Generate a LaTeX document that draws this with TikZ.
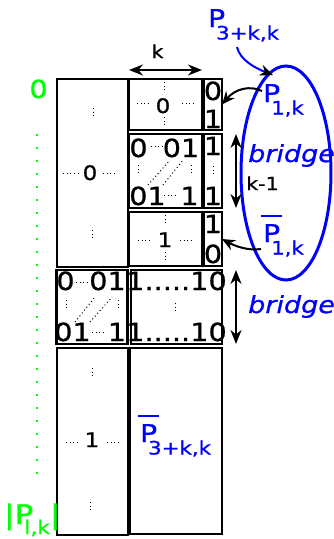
\documentclass[tikz,border=0pt]{standalone}
\usepackage{fontspec}
\setmainfont{DejaVu Sans}[FakeStretch=1.15,FakeBold=0.8]
\usetikzlibrary{arrows.meta}
\definecolor{pblue}{RGB}{0,0,255}
\definecolor{pgreen}{RGB}{0,255,0}
\newcommand\fs[1]{\fontsize{#1}{#1}\selectfont}
\newcommand\lowsub[1]{\kern-9pt\raisebox{-12.5pt}{\fs{18.5}#1}}
\newcommand\barP{\makebox[0pt][l]{\kern-2pt\rule[25pt]{21pt}{2pt}}P}
\begin{document}
\begin{tikzpicture}[x=1pt,y=-1pt,
  blk/.style={draw, line width=2.8pt, inner sep=0pt, outer sep=0pt},
  dig/.style={inner sep=0pt, anchor=base, font=\fs{25}},
  sdig/.style={inner sep=0pt, anchor=base, font=\fs{20}},
  lbl/.style={inner sep=0pt, anchor=base west},
  dt/.style={line width=1pt, dash pattern=on 1pt off 2.7pt},
  arr/.style={line width=2pt, -{Stealth[length=13pt,width=11pt]}},
  dbl/.style={line width=2pt, {Stealth[length=14pt,width=11pt]}-{Stealth[length=14pt,width=11pt]}}]
\useasboundingbox (0,0) rectangle (334,539);
% blocks
\node[blk, minimum width=71pt, minimum height=188pt] (A) at (92.5,173) {};
\node[blk, minimum width=73pt, minimum height=51pt] (B) at (165.5,104.5) {};
\node[blk, minimum width=18pt, minimum height=51pt] (C) at (213,104.5) {};
\node[blk, minimum width=73pt, minimum height=74pt] (D) at (165.5,171) {};
\node[blk, minimum width=18pt, minimum height=74pt] (E) at (213,171) {};
\node[blk, minimum width=73pt, minimum height=54pt] (F) at (165.5,239) {};
\node[blk, minimum width=18pt, minimum height=54pt] (G) at (213,239) {};
\node[blk, minimum width=71pt, minimum height=74pt] (H) at (92,307) {};
\node[blk, minimum width=91pt, minimum height=74pt] (I) at (176.5,307) {};
\node[blk, minimum width=71pt, minimum height=187pt] (J) at (92.5,441.5) {};
\node[blk, minimum width=92pt, minimum height=186pt] (K) at (176,441) {};
% A
\node[sdig] (a0) at (90,180) {0};
\draw[dt] (63,173) -- (78,173); \draw[dt] (103,173) -- (117,173);
\draw[dt] (93,108) -- (93,118); \draw[dt] (92,230) -- (92,240);
% B
\node[sdig] (b0) at (163,113) {0};
\draw[dt] (137,103) -- (149,103); \draw[dt] (182,103) -- (194,103);
\draw[dt] (164,82) -- (164,92); \draw[dt] (164,117) -- (164,126);
% C
\node[dig] (c0) at (213,100) {0};
\node[dig] (c1) at (213,128) {1};
% D
\node[dig] (d1) at (138.5,157) {0};
\node[dig] (d2) at (181,157) {01};
\draw[dt] (151,146) -- (163,146);
\node[dig] (d3) at (147.5,205) {01};
\node[dig] (d4) at (189.5,205) {1};
\draw[dt] (164,195) -- (178,195);
\draw[dt] (138,165) -- (138,175); \draw[dt] (191,165) -- (191,175);
\draw[dt] (148,185) -- (170,160); \draw[dt] (163,185) -- (183,160);
% E
\node[dig] (e1) at (213,155) {1};
\node[dig] (e2) at (213,205) {1};
\draw[dt] (213,166) -- (213,176);
% F
\node[sdig] (f1) at (165,247) {1};
\draw[dt] (138,240) -- (152,240); \draw[dt] (180,240) -- (193,240);
\draw[dt] (165,215) -- (165,225); \draw[dt] (165,252) -- (165,262);
% G
\node[dig] (g1) at (213,233) {1};
\node[dig] (g0) at (213,263) {0};
% H
\node[dig] (h1) at (65.5,290) {0};
\node[dig] (h2) at (107.5,290) {01};
\draw[dt] (76,282) -- (89,282);
\node[dig] (h3) at (72.5,341) {01};
\node[dig] (h4) at (117,341) {1};
\draw[dt] (92,332) -- (105,332);
\draw[dt] (66,300) -- (66,310); \draw[dt] (118,300) -- (118,310);
\draw[dt] (75,322) -- (95,297); \draw[dt] (90,322) -- (112,297);
% I
\node[dig] (i1) at (176.5,290) {1.....10};
\node[dig] (i2) at (176.5,341) {1.....10};
\draw[dt] (175,303) -- (175,314);
% J
\node[sdig] (j1) at (92,447) {1};
\draw[dt] (66,442) -- (79,442); \draw[dt] (107,442) -- (121,442);
\draw[dt] (92,368) -- (92,378); \draw[dt] (90,502) -- (90,512);
% K
\node[lbl, text=pblue, font=\fs{24.5}] (pk) at (140,442) {\barP\lowsub{3+k,k}};
% green
\node[inner sep=0pt, anchor=base, text=pgreen, font=\fs{25}] (g0l) at (38.5,98) {0};
\foreach \i in {0,...,26} \fill[pgreen] (35.8,{133.8+13*\i}) rectangle ++(2.6,2.6);
\node[lbl, text=pgreen, font=\fs{27}] (gp) at (4,524) {|P\kern-9pt\raisebox{-10pt}{\fs{19}l,k}|};
% k arrow
\node[inner sep=0pt, anchor=base, font=\fs{18}] (klab) at (157.5,58) {k};
\draw[dbl] ([yshift=9pt]B.north west) -- ([yshift=9pt]B.north east);
% ellipse
\coordinate (ec) at (286,173);
\draw[pblue, line width=3pt] (ec) ellipse [x radius=45, y radius=107];
% right labels
\node[lbl, text=pblue, font=\fs{24.5}] (p3) at (208,27) {P\lowsub{3+k,k}};
\node[lbl, text=pblue, font=\fs{24.5}] (p1) at (263,102) {P\lowsub{1,k}};
\node[lbl, text=pblue, font=\fs{24.5}] (p1b) at (263,242) {\barP\lowsub{1,k}};
\node[lbl, text=pblue, font=\itshape\fs{23.5}] (br1) at (248,162) {bridge};
\node[lbl, text=pblue, font=\itshape\fs{23.5}] (br2) at (248,313) {bridge};
\node[lbl, font=\fs{18}] (km1) at (246,190) {k-1};
% arrows
\coordinate (et) at (273,75);
\draw[pblue, line width=2pt, -{Stealth[length=13pt,width=11pt,black]}] (237,47) .. controls (240,60) and (255,68) .. (et);
\draw[arr] (262,91) .. controls (250,85) and (235,89) .. (C.east);
\draw[arr] (261,249) .. controls (248,251) and (235,246) .. (G.east);
\draw[dbl] ([xshift=14pt]E.north east) -- ([xshift=14pt]E.south east);
\draw[dbl] ([xshift=14pt]I.north east) -- ([xshift=14pt]I.south east);
\end{tikzpicture}
\end{document}
